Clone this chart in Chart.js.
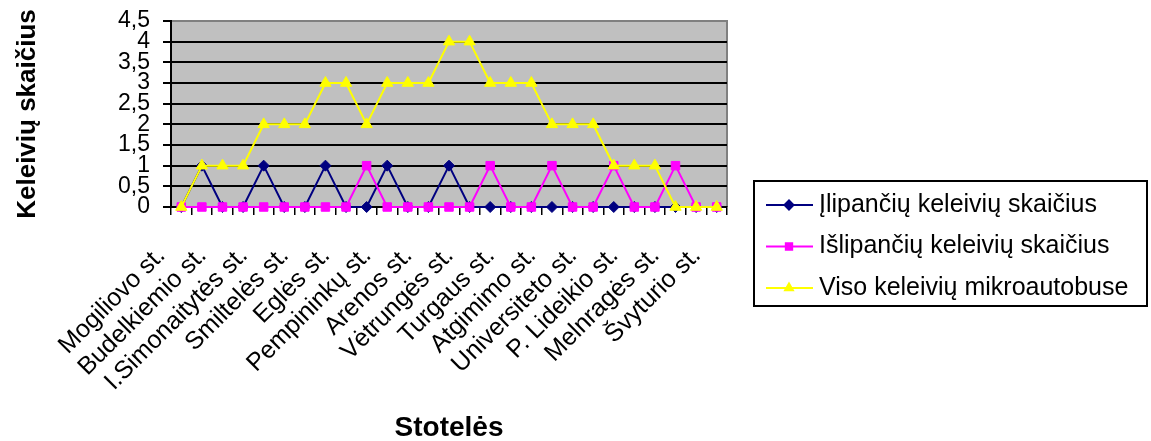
<!DOCTYPE html>
<html>
<head>
<meta charset="utf-8">
<script src="https://cdn.jsdelivr.net/npm/chart.js@4/dist/chart.umd.min.js"></script>
<style>
  body { margin: 0; background: #fff; }
  #wrap { width: 1151px; height: 441px; }
</style>
</head>
<body>
<div id="wrap"><canvas id="myChart"></canvas></div>
<script>
// categories - Excel only printed every second one
let categories = ['Mogiliovo st.', '', 'Budelkiemio st.', '', 'I.Simonaitytės st.', '', 'Smiltelės st.', '',
  'Eglės st.', '', 'Pempininkų st.', '', 'Arenos st.', '', 'Vėtrungės st.', '', 'Turgaus st.', '',
  'Atgimimo st.', '', 'Universiteto st.', '', 'P. Lideikio st.', '', 'Melnragės st.', '', 'Švyturio st.'];

let seriesNames = ['Įlipančių keleivių skaičius', 'Išlipančių keleivių skaičius', 'Viso keleivių mikroautobuse'];
let boarding  = [0,1,0,0,1,0,0,1,0,0,1,0,0,1,0,0,0,0,0,0,0,0,0,0,0,0,0];
let alighting = [0,0,0,0,0,0,0,0,0,1,0,0,0,0,0,1,0,0,1,0,0,1,0,0,1,0,0];
let onBoard   = [0,1,1,1,2,2,2,3,3,2,3,3,3,4,4,3,3,3,2,2,2,1,1,1,0,0,0];

let yMin = 0, yMax = 4.5, yStep = 0.5;

const font = '"Liberation Sans", Arial, sans-serif';

let ctx = document.getElementById('myChart').getContext('2d');

// grey plot area like excel
const plotBg = {
  id: 'plotBg',
  beforeDraw(chart) {
    const c = chart.ctx, a = chart.chartArea;
    c.save();
    c.fillStyle = '#c0c0c0';
    c.fillRect(a.left, a.top, a.width, a.height);
    c.strokeStyle = '#808080';
    c.lineWidth = 2;
    c.beginPath();
    c.moveTo(a.left, a.top);
    c.lineTo(a.right, a.top);
    c.lineTo(a.right, a.bottom);
    c.stroke();
    c.restore();
  }
};

// legend with a frame and line+marker samples
const boxLegend = {
  id: 'boxLegend',
  afterDraw(chart) {
    const c = chart.ctx;
    const x = chart.chartArea.right + 27, y = 181, w = 393, h = 125;
    c.save();
    c.fillStyle = '#fff';
    c.fillRect(x, y, w, h);
    c.strokeStyle = '#000';
    c.lineWidth = 2;
    c.strokeRect(x, y, w, h);
    c.font = '25px ' + font;
    c.textBaseline = 'middle';
    chart.data.datasets.forEach((ds, i) => {
      const cy = y + 24 + i * 41.5;
      c.strokeStyle = ds.borderColor;
      c.lineWidth = 2;
      c.beginPath();
      c.moveTo(x + 12, cy);
      c.lineTo(x + 59, cy);
      c.stroke();
      c.fillStyle = ds.borderColor;
      Chart.helpers.drawPoint(c, {pointStyle: ds.pointStyle, radius: 4.5, borderWidth: 1}, x + 35, cy);
      c.fillStyle = '#000';
      c.fillText(ds.label, x + 65, cy);
    });
    c.restore();
  }
};

const myChart = new Chart(ctx, {
  type: 'line',
  data: {
    labels: categories,
    datasets: [{
      label: seriesNames[0],
      data: boarding,
      borderColor: '#000080',
      backgroundColor: '#000080',
      pointStyle: 'rectRot',
      pointRadius: 5.5,
      order: 3
    }, {
      label: seriesNames[1],
      data: alighting,
      borderColor: '#ff00ff',
      backgroundColor: '#ff00ff',
      pointStyle: 'rect',
      pointRadius: 6,
      order: 2
    }, {
      label: seriesNames[2],
      data: onBoard,
      borderColor: '#ffff00',
      backgroundColor: '#ffff00',
      pointStyle: 'triangle',
      pointRadius: 6.5,
      order: 1
    }]
  },
  options: {
    responsive: true,
    maintainAspectRatio: false,
    animation: false,
    events: [],
    layout: { padding: { left: 8, top: 21, right: 424, bottom: 0 } },
    elements: {
      line: { borderWidth: 2, tension: 0 },
      point: { borderWidth: 1, hoverRadius: 6 }
    },
    datasets: { line: { clip: false } },
    scales: {
      x: {
        offset: true,
        grid: { offset: true, drawOnChartArea: false, color: '#000', tickLength: 8, lineWidth: 1.5 },
        border: { color: '#000', width: 2 },
        ticks: {
          autoSkip: false,
          maxRotation: 45,
          minRotation: 45,
          color: '#000',
          padding: 26,
          labelOffset: -20,
          font: { family: font, size: 25 }
        },
        title: {
          display: true,
          text: 'Stotelės',
          color: '#000',
          padding: { top: 4, bottom: -4 },
          font: { family: font, size: 28, weight: 'bold' }
        },
        afterFit(s) { s.height = 234; s.paddingLeft = 0; s.paddingRight = 0; }
      },
      y: {
        min: yMin,
        max: yMax,
        grid: {
          color: c => c.tick.value >= yMax ? 'rgba(0,0,0,0)' : '#000',
          tickColor: '#000',
          lineWidth: 2,
          tickLength: 8
        },
        border: { color: '#000', width: 2 },
        ticks: {
          stepSize: yStep,
          autoSkip: false,
          padding: 13,
          color: '#000',
          font: { family: font, size: 23 },
          callback: v => String(v).replace('.', ',')
        },
        title: {
          display: true,
          text: 'Keleivių skaičius',
          color: '#000',
          font: { family: font, size: 26, weight: 'bold' }
        },
        afterFit(s) { s.width = 163; s.paddingTop = 0; s.paddingBottom = 0; }
      }
    },
    plugins: {
      legend: { display: false },
      tooltip: { enabled: false }
    }
  },
  plugins: [plotBg, boxLegend]
});
</script>
</body>
</html>
